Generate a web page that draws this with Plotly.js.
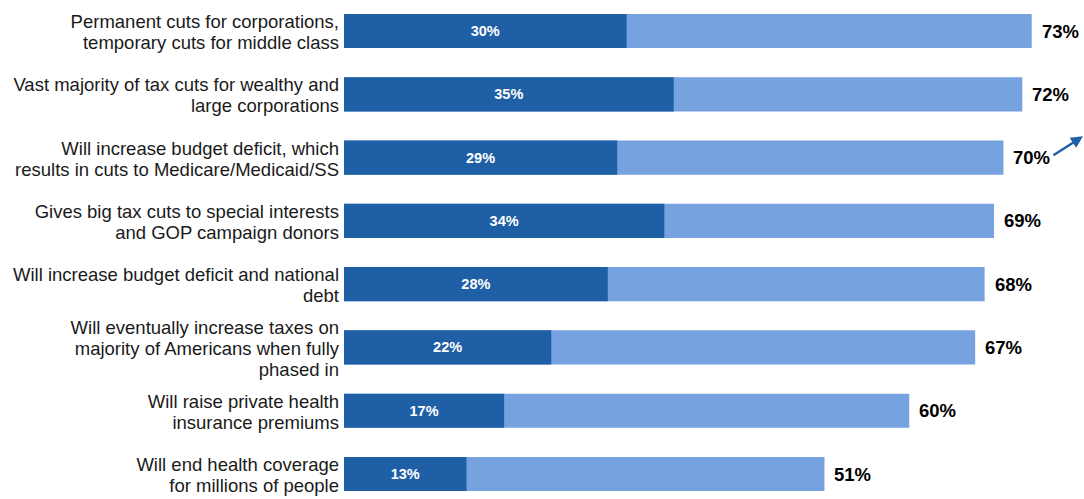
<!DOCTYPE html>
<html>
<head>
<meta charset="utf-8">
<script src="https://cdn.plot.ly/plotly-3.0.1.min.js"></script>
<style>html,body{margin:0;padding:0;background:#fff;}#chart{width:1084px;height:499px;}</style>
</head>
<body>
<div id="chart"></div>
<script>
const categories = [
  "Permanent cuts for corporations,<br>temporary cuts for middle class",
  "Vast majority of tax cuts for wealthy and<br>large corporations",
  "Will increase budget deficit, which<br>results in cuts to Medicare/Medicaid/SS",
  "Gives big tax cuts to special interests<br>and GOP campaign donors",
  "Will increase budget deficit and national<br>debt",
  "Will eventually increase taxes on<br>majority of Americans when fully<br>phased in",
  "Will raise private health<br>insurance premiums",
  "Will end health coverage<br>for millions of people"
];
const strongValues = [30, 35, 29, 34, 28, 22, 17, 13];
const totalValues = [73, 72, 70, 69, 68, 67, 60, 51];

const DARK = "#1F5FA6";
const LIGHT = "#76A2DF";
const FONT = "Liberation Sans, Arial, sans-serif";

const traces = [
  {
    type: "bar", orientation: "h", name: "Total",
    y: categories, x: totalValues,
    marker: {color: LIGHT},
    hoverinfo: "skip"
  },
  {
    type: "bar", orientation: "h", name: "Strongly",
    y: categories, x: strongValues,
    marker: {color: DARK},
    text: strongValues.map(v => v + "%"),
    textposition: "inside",
    insidetextanchor: "middle",
    textangle: 0,
    textfont: {family: FONT, size: 14.5, color: "#ffffff", weight: "bold"},
    hoverinfo: "skip"
  }
];

const annotations = totalValues.map((v, i) => ({
  x: v, y: categories[i], xref: "x", yref: "y",
  text: "<b>" + v + "%</b>", showarrow: false,
  xanchor: "left", yanchor: "middle", xshift: 8,
  font: {family: FONT, size: 18.5, color: "#000000"}
}));
annotations.push({
  xref: "paper", yref: "paper", x: 1.008, y: 0.727,
  showarrow: true, arrowhead: 2, arrowsize: 1, arrowwidth: 2.4,
  arrowcolor: DARK, ax: -38, ay: 20, text: ""
});

const layout = {
  width: 1084, height: 499,
  margin: {l: 344, r: 0, t: 0, b: 0, pad: 0},
  paper_bgcolor: "#ffffff", plot_bgcolor: "#ffffff",
  barmode: "overlay",
  bargap: 0.46,
  showlegend: false,
  xaxis: {range: [0, 78.55], showgrid: false, zeroline: false, showticklabels: false, showline: false, fixedrange: true},
  yaxis: {
    type: "category",
    range: [7.395, -0.49], showgrid: false, zeroline: false, showline: false,
    ticks: "", ticklen: 0, ticklabelstandoff: 4, ticklabelshift: -2,
    tickfont: {family: FONT, size: 16, color: "#1a1a1a"},
    tickvals: categories,
    ticktext: categories.map(c => '<span style="font-size:18.5px">' + c.split("<br>").join('</span><br><span style="font-size:18.5px">') + '</span>'),
    automargin: false
  },
  annotations: annotations
};

Plotly.newPlot("chart", traces, layout, {displayModeBar: false, staticPlot: true});
</script>
</body>
</html>
